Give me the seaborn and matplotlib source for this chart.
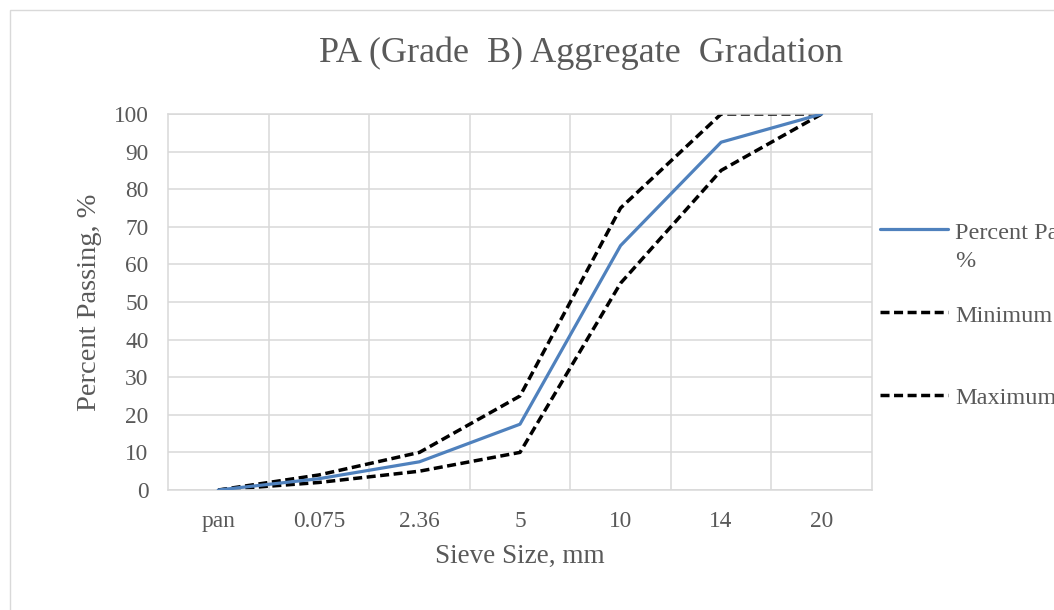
import matplotlib
matplotlib.use("Agg")
import matplotlib.pyplot as plt
import seaborn as sns
import pandas as pd
from matplotlib.patches import Rectangle
from matplotlib.ticker import FixedLocator
from matplotlib.legend_handler import HandlerLine2D

sieve_sizes = ["pan", "0.075", "2.36", "5", "10", "14", "20"]
percent_passing = [0, 3, 7.5, 17.5, 65, 92.5, 100]
minimum = [0, 2, 5, 10, 55, 85, 100]
maximum = [0, 4, 10, 25, 75, 100, 100]
series_names = ["Percent Passing, %", "Minimum", "Maximum"]
legend_labels = ["Percent Passing,\n%", "Minimum\n", "Maximum\n"]

sns.set_theme(style="white")
plt.rcParams["font.family"] = ["Liberation Serif", "DejaVu Serif"]

rows = []
for name, vals in zip(series_names, [percent_passing, minimum, maximum]):
    for s, v in zip(sieve_sizes, vals):
        rows.append({"Sieve": s, "Value": v, "Series": name})
df = pd.DataFrame(rows)

fig = plt.figure(figsize=(10.54, 6.10), dpi=100)
fig.patches.append(Rectangle((10/1054, -0.1), 1.2, (600+61)/610, transform=fig.transFigure,
                             fill=False, edgecolor="#d9d9d9", linewidth=1.0))
ax = fig.add_axes([168/1054, 1-490/610, (872-168)/1054, (490-114)/610])

grey = "#595959"
gridc = "#d9d9d9"

palette = {series_names[0]: "#4f81bd", series_names[1]: "black", series_names[2]: "black"}
sns.lineplot(data=df, x="Sieve", y="Value", hue="Series", sort=False, palette=palette,
             ax=ax, legend=False, estimator=None)
lines = ax.get_lines()
lines[0].set_linewidth(2.3)
for ln in lines[1:]:
    ln.set_linewidth(2.5)
    ln.set_linestyle((0, (2.6, 1.3)))
lines[0].set_zorder(5)

ax.set_xlim(-0.5, 6.5)
ax.set_ylim(0, 100)
ax.set_yticks(range(0, 101, 10))
ax.set_xticks(range(7))
ax.set_xticklabels(sieve_sizes)
ax.xaxis.set_minor_locator(FixedLocator([0.5 + i for i in range(6)]))
ax.grid(True, axis="y", which="major", color=gridc, linewidth=1.1)
ax.grid(True, axis="x", which="minor", color=gridc, linewidth=1.1)
ax.grid(False, axis="x", which="major")
ax.tick_params(axis="both", which="both", length=0, labelcolor=grey, labelsize=16.8)
ax.tick_params(axis="y", pad=14)
ax.tick_params(axis="x", pad=15)
for sp in ax.spines.values():
    sp.set_color(gridc)
    sp.set_linewidth(1.1)

ax.set_xlabel("Sieve Size, mm", fontsize=19.5, color=grey, labelpad=8.5)
ax.set_ylabel("Percent Passing, %", fontsize=20.5, color=grey, labelpad=8.5)
fig.text(581/1054, 1-53/610, "PA (Grade  B) Aggregate  Gradation", ha="center", va="center",
         fontsize=26, color=grey)


class RaisedLine(HandlerLine2D):
    def __init__(self, dy, **kw):
        super().__init__(**kw)
        self.dy = dy

    def create_artists(self, legend, orig_handle, xdescent, ydescent, width, height,
                       fontsize, trans):
        return super().create_artists(legend, orig_handle, xdescent, ydescent - 2 * self.dy,
                                      width, height, fontsize, trans)


leg = fig.legend(lines, legend_labels, loc="upper left",
                 bbox_to_anchor=(880/1054, 1-223/610), frameon=False,
                 fontsize=17.5, handlelength=2.8, handletextpad=0.29, labelspacing=1.38,
                 labelcolor=grey, borderaxespad=0, borderpad=0,
                 handler_map={ln: RaisedLine(13) for ln in lines})
for t in leg.get_texts():
    t.set_linespacing(1.45)

fig.savefig("out.png", dpi=100)
